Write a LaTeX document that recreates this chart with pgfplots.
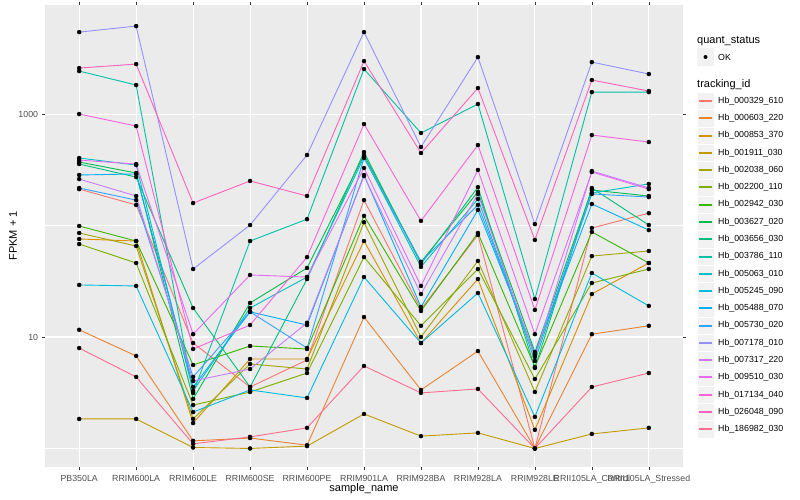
\documentclass[border=0pt]{standalone}
\usepackage{fontspec}
\setmainfont{Liberation Sans}
\usepackage{pgfplots}
\usepackage{pgfplotstable}
\pgfplotsset{compat=1.18}

\definecolor{gray92}{HTML}{EBEBEB}
\definecolor{gray95}{HTML}{F2F2F2}
\definecolor{gray20}{HTML}{333333}
\definecolor{gray30}{HTML}{4D4D4D}
\definecolor{c1}{HTML}{F8766D}
\definecolor{c2}{HTML}{EA8331}
\definecolor{c3}{HTML}{D89000}
\definecolor{c4}{HTML}{C09B00}
\definecolor{c5}{HTML}{A3A500}
\definecolor{c6}{HTML}{7CAE00}
\definecolor{c7}{HTML}{39B600}
\definecolor{c8}{HTML}{00BB4E}
\definecolor{c9}{HTML}{00BF7D}
\definecolor{c10}{HTML}{00C1A3}
\definecolor{c11}{HTML}{00BFC4}
\definecolor{c12}{HTML}{00BAE0}
\definecolor{c13}{HTML}{00B0F6}
\definecolor{c14}{HTML}{35A2FF}
\definecolor{c15}{HTML}{9590FF}
\definecolor{c16}{HTML}{C77CFF}
\definecolor{c17}{HTML}{E76BF3}
\definecolor{c18}{HTML}{FA62DB}
\definecolor{c19}{HTML}{FF62BC}
\definecolor{c20}{HTML}{FF6C91}

% FPKM + 1, one row per sample, one column per tracking_id
\pgfplotstableread{
x  s1   s2   s3   s4   s5   s6   s7   s8   s9   s10  s11  s12  s13  s14  s15  s16  s17  s18  s19  s20
1  212  11.6 75.7 1.84 85.7 68.2 99   371  356  2430 403  29.3 284  217  5433 261  386  1000 2585 7.96
2  153  6.76 72.6 1.84 65.5 46.1 72.6 296  272  1821 349  28.7 290  169  6152 184  356  780  2806 4.38
3  8.83 1.17 1.69 1.02 1.84 2.45 5.61 2.78 18.2 3.15 3.28 2.12 3.56 4.38 40.7 4.03 10.6 7.80 159  1.10
4  3.56 1.24 6.35 1.0  5.73 3.21 8.30 20.2 3.56 72.6 18.2 3.35 16.8 16.8 101  5.16 36.0 12.8 251  1.27
5  6.22 1.07 6.35 1.05 5.16 4.75 7.80 41.6 33.1 114  34.5 2.84 12.8 7.96 429  13.4 34.5 52.1 184  1.53
6  169  15.1 72.6 2.04 107  52.1 122  429  456  2533 411  34.5 284  403  5433 278  328  813  2985 5.50
7  17.8 3.35 8.83 1.29 10.0 12.6 17.1 47.1 45.2 676  42.5 8.83 18.6 47.1 506  24.3 28.7 110  447  3.15
8  82.3 7.48 33.1 1.38 48.1 40.7 85.7 200  221  1230 173  24.8 138  153  3243 192  315  527  1711 3.42
9  1.0  1.0  1.47 1.0  3.21 4.20 5.38 7.33 5.27 21.9 6.10 1.92 7.04 6.76 103  6.62 10.6 17.5 74.2 1.0
10 95   10.6 24.3 1.35 53.2 30.5 87.5 208  217  1574 196  37.5 156  192  2924 308  302  648  2019 3.56
11 129  12.6 46.1 1.53 59.1 40.7 46.1 184  101  1574 236  19.0 91   180  2285 217  212  561  1608 4.75
}\data

\begin{document}
\begin{tikzpicture}
\path[use as bounding box] (0pt,0pt) rectangle (800pt,500pt);
\begin{axis}[
    at={(45pt,33pt)}, anchor=south west,
    scale only axis, width=638pt, height=462pt,
    xmin=0.4, xmax=11.6,
    ymode=log, ymin=0.682, ymax=9510,
    axis background/.style={fill=gray92},
    axis line style={draw=none},
    xtick={1,...,11},
    xticklabels={PB350LA,RRIM600LA,RRIM600LE,RRIM600SE,RRIM600PE,RRIM901LA,RRIM928BA,RRIM928LA,RRIM928LE,RRII105LA\_Control,RRII105LA\_Stressed},
    ytick={10,1000}, yticklabels={10,1000},
    minor ytick={1,100},
    grid=both,
    major grid style={white, line width=1.07pt},
    minor grid style={white, line width=0.53pt},
    tick align=outside,
    major tick length=2.75pt, minor tick length=0pt,
    tick style={gray20, line width=0.53pt},
    tick label style={font=\fontsize{8.8}{10}\selectfont, text=gray30, inner sep=0pt},
    xticklabel style={anchor=north, yshift=-5pt},
    yticklabel style={anchor=east, xshift=-4pt},
    clip=false,
]
\pgfplotsinvokeforeach{1,...,20}{
  \addplot[c#1, line width=0.9pt, no markers] table[x=x, y=s#1] {\data};
}
\pgfplotsinvokeforeach{1,...,20}{
  \addplot[only marks, mark=*, mark size=2pt, black] table[x=x, y=s#1] {\data};
}
\end{axis}

% axis titles
\node[font=\fontsize{11}{13}\selectfont] at (364pt,11pt) {sample\_name};
\node[font=\fontsize{11}{13}\selectfont, rotate=90] at (13pt,264pt) {FPKM + 1};

% legend
\node[anchor=west, inner sep=0pt, font=\fontsize{11}{13}\selectfont] at (697pt,459.3pt) {quant\_status};
\fill[gray95] (697pt,434.4pt) rectangle (714pt,451.6pt);
\fill[black] (705.5pt,443pt) circle (2pt);
\node[anchor=west, inner sep=0pt, font=\fontsize{8.8}{10}\selectfont] at (718pt,443pt) {OK};
\node[anchor=west, inner sep=0pt, font=\fontsize{11}{13}\selectfont] at (697pt,415.7pt) {tracking\_id};
\foreach \n/\cc [count=\i from 0] in {
  Hb\_000329\_610/c1, Hb\_000603\_220/c2, Hb\_000853\_370/c3, Hb\_001911\_030/c4,
  Hb\_002038\_060/c5, Hb\_002200\_110/c6, Hb\_002942\_030/c7, Hb\_003627\_020/c8,
  Hb\_003656\_030/c9, Hb\_003786\_110/c10, Hb\_005063\_010/c11, Hb\_005245\_090/c12,
  Hb\_005488\_070/c13, Hb\_005730\_020/c14, Hb\_007178\_010/c15, Hb\_007317\_220/c16,
  Hb\_009510\_030/c17, Hb\_017134\_040/c18, Hb\_026048\_090/c19, Hb\_186982\_030/c20} {
  \pgfmathsetmacro{\yy}{399-17.28*\i}
  \pgfmathsetmacro{\ly}{round(399-17.28*\i)}
  \fill[gray95, draw=white, line width=0.5pt] (697pt,\yy pt-8.64pt) rectangle (714pt,\yy pt+8.64pt);
  \draw[color=\cc, line width=1.6pt] (698.7pt,\ly pt) -- (712.3pt,\ly pt);
  \node[anchor=west, inner sep=0pt, font=\fontsize{8.8}{10}\selectfont] at (718pt,\yy pt) {\n};
}
\end{tikzpicture}
\end{document}
